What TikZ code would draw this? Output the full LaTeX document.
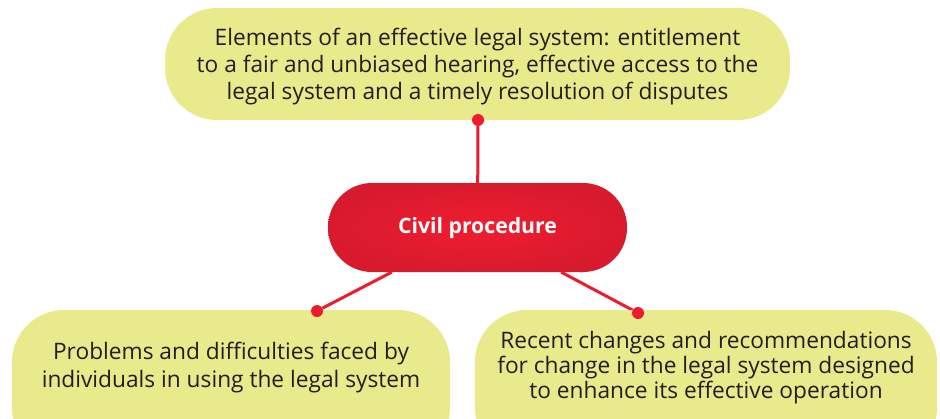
\documentclass[tikz,border=0pt]{standalone}
\usepackage{fontspec}
\setmainfont{Open Sans}
\usetikzlibrary{backgrounds}
\definecolor{boxfill}{HTML}{E8EA8C}
\definecolor{redmain}{HTML}{EC1C2E}
\definecolor{redinner}{HTML}{F01D30}
\definecolor{reddark}{HTML}{D81A2E}
\definecolor{txt}{HTML}{231F20}
\tikzset{
  idea/.style={fill=boxfill, draw=none, inner sep=0pt, rounded corners=52pt},
  ideatext/.style={text=txt, align=center, inner sep=0pt},
  hub/.style={inner color=redinner, outer color=reddark, draw=none,
    rounded corners=44pt, minimum width=299pt, minimum height=89pt,
    text=white, font=\fontsize{21.2}{25}\selectfont\bfseries},
  dot/.style={circle, fill=redmain, draw=none, minimum size=12pt, inner sep=0pt},
  link/.style={draw=redmain, line width=3pt}
}
\begin{document}
\begin{tikzpicture}[x=1pt,y=-1pt]
\useasboundingbox (0,0) rectangle (940,418);
\clip (0,0) rectangle (940,418);
\node[idea, minimum width=625pt, minimum height=112pt] (top) at (477.5,64) {};
\node[ideatext, font=\fontsize{22.7}{27}\selectfont] (toptext) at (477.5,67)
  {Elements of an effective legal system: entitlement\\to a fair and unbiased hearing, effective access to the\\legal system and a timely resolution of disputes};
\node[idea, minimum width=438pt, minimum height=150pt] (bl) at (231,385) {};
\node[ideatext, font=\fontsize{22.7}{28}\selectfont] (bltext) at (231,368)
  {Problems and difficulties faced by\\individuals in using the legal system};
\node[idea, minimum width=462pt, minimum height=150pt] (br) at (706,385) {};
\node[ideatext, font=\fontsize{22.7}{25}\selectfont] (brtext) at (706,368)
  {Recent changes and recommendations\\for change in the legal system designed\\to enhance its effective operation};
\node[hub] (hub) at (477.5,227.5) {Civil procedure};
\node[dot] (dtop) at (478,120) {};
\node[dot] (dl) at (317,311) {};
\node[dot] (dr) at (638,313) {};
\begin{scope}[on background layer]
\draw[link] (dtop) -- (hub);
\draw[link] (hub) -- (dl);
\draw[link] (hub) -- (dr);
\end{scope}
\end{tikzpicture}
\end{document}
